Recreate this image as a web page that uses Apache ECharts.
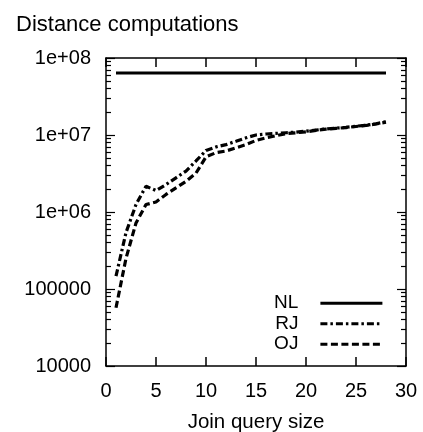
<!DOCTYPE html>
<html>
<head>
<meta charset="utf-8">
<script src="https://cdn.jsdelivr.net/npm/echarts@6/dist/echarts.min.js"></script>
<style>
  html, body { margin: 0; padding: 0; background: #fff; }
  #chart { width: 423px; height: 432px; }
</style>
</head>
<body>
<div id="chart"></div>
<script>
// Join query size (number of relations) on the x axis
const querySizes = [1, 2, 3, 4, 5, 6, 7, 8, 9, 10, 11, 12, 13, 14,
                    15, 16, 17, 18, 19, 20, 21, 22, 23, 24, 25, 26, 27, 28];

// Distance computations per method
const nlValues = [6.4e7, 6.4e7, 6.4e7, 6.4e7, 6.4e7, 6.4e7, 6.4e7, 6.4e7, 6.4e7, 6.4e7,
                  6.4e7, 6.4e7, 6.4e7, 6.4e7, 6.4e7, 6.4e7, 6.4e7, 6.4e7, 6.4e7, 6.4e7,
                  6.4e7, 6.4e7, 6.4e7, 6.4e7, 6.4e7, 6.4e7, 6.4e7, 6.4e7];
const rjValues = [1.47e5, 5.4e5, 1.25e6, 2.16e6, 1.9e6, 2.27e6, 2.78e6, 3.4e6, 4.6e6, 6.3e6,
                  7.0e6, 7.5e6, 8.3e6, 9.2e6, 1.0e7, 1.03e7, 1.05e7, 1.07e7, 1.09e7, 1.12e7,
                  1.16e7, 1.2e7, 1.23e7, 1.26e7, 1.3e7, 1.34e7, 1.4e7, 1.49e7];
const ojValues = [5.7e4, 2.5e5, 7.2e5, 1.25e6, 1.35e6, 1.69e6, 2.06e6, 2.5e6, 3.2e6, 5.2e6,
                  5.9e6, 6.2e6, 6.8e6, 7.5e6, 8.5e6, 9.2e6, 9.8e6, 1.04e7, 1.07e7, 1.1e7,
                  1.15e7, 1.19e7, 1.22e7, 1.25e7, 1.29e7, 1.33e7, 1.39e7, 1.47e7];

const seriesNames = ['NL', 'RJ', 'OJ'];

// Axis ticks and labels
const xTicks = [0, 5, 10, 15, 20, 25, 30];
const yTicks = [1e4, 1e5, 1e6, 1e7, 1e8];
const yTickLabels = ['10000', '100000', '1e+06', '1e+07', '1e+08'];

// gnuplot-style minor ticks at 2..9 within each decade
const yMinorTicks = [];
for (let d = 4; d < 8; d++) {
  for (let m = 2; m <= 9; m++) yMinorTicks.push(m * Math.pow(10, d));
}

const FONT = "'Liberation Sans', Arial, Helvetica, sans-serif";
const INK = '#000';

function pairs(xs, ys) { return xs.map((x, i) => [x, ys[i]]); }

function xAxisDef(pos, withLabels) {
  return {
    type: 'value', position: pos,
    min: xTicks[0], max: xTicks[xTicks.length - 1], interval: xTicks[1] - xTicks[0],
    axisLine: { show: true, onZero: false, lineStyle: { color: INK, width: 1.5 } },
    axisTick: { show: true, inside: true, length: 9, lineStyle: { color: INK, width: 1.5 } },
    axisLabel: { show: withLabels, color: INK, fontFamily: FONT, fontSize: 20, margin: 15 },
    splitLine: { show: false },
    name: withLabels ? 'Join query size' : '',
    nameLocation: 'middle', nameGap: 46,
    nameTextStyle: { color: INK, fontFamily: FONT, fontSize: 20.5 }
  };
}

function yAxisDef(pos, tickValues, tickLen, withLabels, withLine) {
  return {
    type: 'log', logBase: 10, position: pos, min: yTicks[0], max: yTicks[yTicks.length - 1],
    axisLine: { show: withLine, lineStyle: { color: INK, width: 1.5 } },
    axisTick: { show: true, inside: true, length: tickLen, customValues: tickValues,
                lineStyle: { color: INK, width: 1.2 } },
    axisLabel: {
      show: withLabels, customValues: tickValues, color: INK, fontFamily: FONT,
      fontSize: 20, margin: 15,
      formatter: v => {
        const i = yTicks.findIndex(t => Math.abs(Math.log10(t) - Math.log10(v)) < 1e-6);
        return i >= 0 ? yTickLabels[i] : '';
      }
    },
    splitLine: { show: false },
    minorTick: { show: false }
  };
}

const chart = echarts.init(document.getElementById('chart'), null, { renderer: 'canvas' });

chart.setOption({
  animation: false,
  backgroundColor: '#fff',
  title: {
    text: 'Distance computations', left: 11, top: 9,
    textStyle: { color: INK, fontFamily: FONT, fontSize: 22, fontWeight: 'normal' }
  },
  grid: { left: 106, right: 17, top: 58, bottom: 66, outerBoundsMode: 'none', containLabel: false },
  xAxis: [xAxisDef('bottom', true), xAxisDef('top', false)],
  yAxis: [
    yAxisDef('left', yTicks, 9, true, true),
    yAxisDef('left', yMinorTicks, 5, false, false),
    yAxisDef('right', yTicks, 9, false, true),
    yAxisDef('right', yMinorTicks, 5, false, false)
  ],
  legend: {
    orient: 'vertical', align: 'right', right: 34, top: 288,
    itemWidth: 62, itemHeight: 14, itemGap: 0,
    itemStyle: { color: 'rgba(0,0,0,0)', borderWidth: 0 },
    lineStyle: { width: 'inherit' },
    textStyle: { color: INK, fontFamily: FONT, fontSize: 19, lineHeight: 20.5,
                 padding: [0, 17, 0, 0] },
    data: seriesNames
  },
  series: [
    {
      name: seriesNames[0], type: 'line', data: pairs(querySizes, nlValues),
      symbol: 'none', itemStyle: { color: INK },
      lineStyle: { color: INK, width: 3, type: 'solid' }
    },
    {
      name: seriesNames[1], type: 'line', data: pairs(querySizes, rjValues),
      symbol: 'none', itemStyle: { color: INK },
      lineStyle: { color: INK, width: 3.2, type: [7, 3, 2.5, 3], cap: 'butt' }
    },
    {
      name: seriesNames[2], type: 'line', data: pairs(querySizes, ojValues),
      symbol: 'none', itemStyle: { color: INK },
      lineStyle: { color: INK, width: 3.2, type: [7, 3.5], cap: 'butt' }
    }
  ]
});
</script>
</body>
</html>
